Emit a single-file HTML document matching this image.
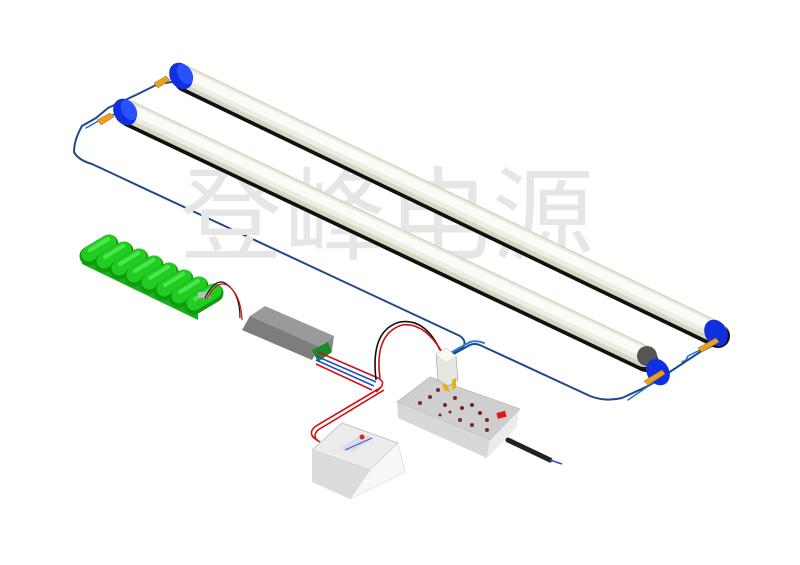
<!DOCTYPE html>
<html><head><meta charset="utf-8"><style>
html,body{margin:0;padding:0;background:#fff;width:800px;height:565px;overflow:hidden}
svg{display:block}
</style></head><body>
<svg width="800" height="565" viewBox="0 0 800 565" xmlns="http://www.w3.org/2000/svg">
<!-- blue wire -->
<g fill="none" stroke-linecap="round" stroke-linejoin="round">
<path d="M172,82 L158,84 L138,94 L108,108 L96,118 L82,126 Q74,140 74,152 Q78,160 92,164 L460,336 Q468,342 462,348 L448,356" stroke="#1d4a8c" stroke-width="2"/>
<path d="M120,112 L100,120 L86,128" stroke="#2a6bc0" stroke-width="1.5"/>
<path d="M450,356 L468,346 Q474,342 482,346 L590,396 Q605,402 622,398 L650,385 L700,352 L712,346" stroke="#1d4a8c" stroke-width="2"/>
<path d="M452,352 L470,342 Q476,340 484,343" stroke="#2a7fd0" stroke-width="2"/>
<path d="M628,400 L660,378 M682,362 L686,360 L688,356 L712,344" stroke="#2a6bc0" stroke-width="1.5"/>
</g>
<!-- watermark -->
<text x="180" y="252" font-family="'Liberation Sans','Noto Sans CJK SC',sans-serif" font-size="102" fill="#e6e6e6" letter-spacing="2">登峰电源</text>
<!-- tube 1 (back) -->
<g stroke-linecap="round">
<line x1="186" y1="80" x2="718" y2="336" stroke="#111" stroke-width="24"/>
<line x1="184" y1="76" x2="716" y2="332" stroke="#d6d6c4" stroke-width="22"/>
<line x1="183" y1="74" x2="715" y2="330" stroke="#ededE2" stroke-width="16"/>
<line x1="182" y1="72" x2="714" y2="328" stroke="#fbfbf7" stroke-width="9"/>
</g>
<!-- tube 2 (front) -->
<g stroke-linecap="round">
<line x1="130" y1="115" x2="646" y2="360" stroke="#111" stroke-width="24"/>
<line x1="128" y1="111" x2="644" y2="356" stroke="#d6d6c4" stroke-width="22"/>
<line x1="127" y1="109" x2="643" y2="354" stroke="#ededE2" stroke-width="16"/>
<line x1="126" y1="107" x2="642" y2="352" stroke="#fbfbf7" stroke-width="9"/>
</g>
<circle cx="647" cy="356" r="10" fill="#555"/>
<!-- caps -->
<g fill="#1030e0">
<ellipse cx="181" cy="76" rx="11" ry="14" transform="rotate(-30 181 76)"/>
<ellipse cx="125" cy="112" rx="11" ry="14" transform="rotate(-30 125 112)"/>
<ellipse cx="716" cy="333" rx="11" ry="14" transform="rotate(-30 716 333)"/>
<ellipse cx="658" cy="372" rx="11" ry="14" transform="rotate(-30 658 372)"/>
</g>
<g fill="#2a50ff"><ellipse cx="185" cy="74" rx="7" ry="11" transform="rotate(-30 185 74)"/>
<ellipse cx="129" cy="110" rx="7" ry="11" transform="rotate(-30 129 110)"/></g>
<!-- orange holders -->
<g fill="#e8a020" stroke="#b07010" stroke-width="0.5">
<polygon points="154,83 166,76 170,80 158,88"/>
<polygon points="97,120 110,113 114,117 101,125"/>
<polygon points="698,348 716,338 719,342 702,352"/>
<polygon points="644,381 662,370 665,374 648,385"/>
</g>
<!-- battery -->
<polygon points="82,252 82,264 198,320 198,308" fill="#18b018"/>
<g stroke-linecap="round">
<g id="c"><line x1="89" y1="256" x2="109" y2="244" stroke="#0f9a0f" stroke-width="19"/><line x1="89" y1="254" x2="109" y2="242" stroke="#22cc22" stroke-width="15"/><line x1="90" y1="250" x2="108" y2="239" stroke="#48e848" stroke-width="4"/></g>
<use href="#c" x="15" y="7"/><use href="#c" x="30" y="14"/><use href="#c" x="45" y="21"/>
<use href="#c" x="60" y="28"/><use href="#c" x="75" y="35"/><use href="#c" x="90" y="42"/><use href="#c" x="105" y="49"/>
</g>
<rect x="198" y="292" width="12" height="6" fill="#bbb"/>
<!-- battery wire -->
<path d="M205,298 Q215,278 225,283 Q240,292 240,318" fill="none" stroke="#111" stroke-width="1.2"/>
<path d="M207,299 Q216,280 227,285 Q241,294 242,320" fill="none" stroke="#d01010" stroke-width="1.2"/>
<!-- ballast -->
<polygon points="250,316 265,306 334,336 320,347" fill="#9a9a9a"/>
<polygon points="242,330 250,316 320,347 312,360" fill="#7d7d7d"/>
<polygon points="320,347 334,336 332,350 318,362" fill="#888"/>
<polygon points="312,350 328,342 332,352 318,362" fill="#1a8a2a"/>
<!-- red/black wires -->
<g fill="none" stroke-width="1.6">
<path d="M318,352 L378,378 Q386,382 380,388 L376,392" stroke="#d01010"/>
<path d="M316,356 L376,382" stroke="#2050c0"/>
<path d="M316,360 L374,386" stroke="#2050c0"/>
<path d="M316,364 L372,390" stroke="#d01010"/>
<path d="M376,380 Q370,330 400,322 Q425,318 440,350" stroke="#111"/>
<path d="M380,378 Q374,334 402,325 Q424,322 442,352" stroke="#d01010"/>
<path d="M380,388 L316,426 Q308,432 314,438 L320,442" stroke="#d01010"/>
<path d="M384,390 L318,430 Q312,436 318,441" stroke="#d01010"/>
</g>
<!-- switch box -->
<polygon points="312,450 342,423 398,443 370,470" fill="#ececec" stroke="#bbb" stroke-width="0.8"/>
<polygon points="312,450 370,470 350,499 312,482" fill="#dcdcdc"/>
<polygon points="370,470 398,443 405,472 350,499" fill="#f8f8f8" stroke="#ccc" stroke-width="0.5"/>
<polygon points="340,448 362,434 374,438 352,452" fill="#d8dde8"/>
<line x1="345" y1="450" x2="372" y2="438" stroke="#3060d0" stroke-width="1"/>
<circle cx="362" cy="437" r="2.5" fill="#e02020"/>
<!-- power strip -->
<polygon points="397,402 430,377 520,409 490,440" fill="#cfcfcf" stroke="#aaa" stroke-width="0.6"/>
<polygon points="397,402 490,440 487,458 398,418" fill="#d8d8d8"/>
<polygon points="490,440 520,409 516,428 487,458" fill="#ececec"/>
<g fill="#7a2a20">
<circle cx="430" cy="397" r="2"/><circle cx="438" cy="390" r="2"/><circle cx="420" cy="403" r="2"/>
<circle cx="445" cy="405" r="2"/><circle cx="455" cy="398" r="2"/><circle cx="462" cy="408" r="2"/>
<circle cx="472" cy="405" r="2"/><circle cx="480" cy="413" r="2"/><circle cx="487" cy="420" r="2"/>
<circle cx="460" cy="420" r="2"/><circle cx="472" cy="425" r="2"/><circle cx="487" cy="430" r="2"/>
<circle cx="440" cy="415" r="1.5"/><circle cx="450" cy="412" r="1.5"/>
</g>
<rect x="497" y="412" width="9" height="6" fill="#e01818" transform="rotate(-15 501 415)"/>
<line x1="508" y1="440" x2="550" y2="460" stroke="#222" stroke-width="5" stroke-linecap="round"/>
<line x1="550" y1="460" x2="562" y2="464" stroke="#3050c0" stroke-width="1.5"/>
<!-- plug -->
<polygon points="436,354 446,348 456,356 458,380 448,386 438,380" fill="#e6e6e0" stroke="#999" stroke-width="0.6"/>
<polygon points="446,348 456,356 446,362 436,354" fill="#f8f8f4"/>
<polygon points="442,382 448,386 450,392 444,390" fill="#e8b010"/>
<polygon points="452,380 456,378 456,388 452,390" fill="#e8b010"/>
</svg>
</body></html>
